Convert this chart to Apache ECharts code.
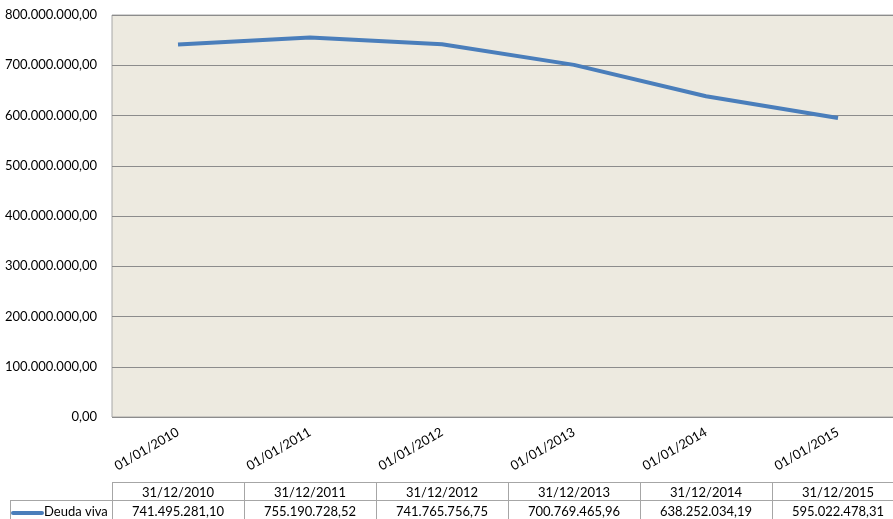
<!DOCTYPE html>
<html><head><meta charset="utf-8">
<script src="https://cdn.jsdelivr.net/npm/echarts@6/dist/echarts.min.js"></script>
<style>html,body{margin:0;padding:0;background:#fff}#c{width:893px;height:519px}</style>
</head><body><div id="c"></div>
<script>
var categories = ['01/01/2010','01/01/2011','01/01/2012','01/01/2013','01/01/2014','01/01/2015'];
var tableDates = ['31/12/2010','31/12/2011','31/12/2012','31/12/2013','31/12/2014','31/12/2015'];
var seriesName = 'Deuda viva';
var values = [741495281.10, 755190728.52, 741765756.75, 700769465.96, 638252034.19, 595022478.31];

function fmt(v){
  var p = v.toFixed(2).split('.');
  return p[0].replace(/\B(?=(\d{3})+(?!\d))/g,'.') + ',' + p[1];
}
var FONT = 'Lato, "Open Sans", sans-serif';
var chart = echarts.init(document.getElementById('c'));
var G = {left:112, top:15, width:792, height:402};
var option = {
  animation:false,
  grid:{left:G.left, top:G.top, width:G.width, height:G.height, outerBoundsMode:'none', containLabel:false,
    show:true, backgroundColor:'#EDEAE0', borderColor:'#a6a6a6', borderWidth:1},
  xAxis:{type:'category', data:categories, boundaryGap:true,
    axisLine:{show:false}, axisTick:{show:false},
    axisLabel:{rotate:30, margin:14, color:'#000', fontSize:13, fontFamily:FONT, interval:0}},
  yAxis:{type:'value', min:0, max:800000000, interval:100000000,
    axisLine:{show:false}, axisTick:{show:false},
    splitLine:{lineStyle:{color:'#8c8c8c', width:1}},
    axisLabel:{margin:15, color:'#000', fontSize:13, fontFamily:FONT, formatter:function(v){return fmt(v);}}},
  series:[{type:'line', name:seriesName, data:values, symbol:'none', lineStyle:{color:'#4A7EBB', width:4}, itemStyle:{color:'#4A7EBB'}}]
};
chart.setOption(option);

var colW = G.width / categories.length;
var g = [];
var lc = '#a6a6a6';
var r1 = 482.5, r2 = 500.5, r3 = 518;
var x0 = G.left, x1 = G.left + G.width;
g.push({type:'line', shape:{x1:x0, y1:r1, x2:x1, y2:r1}, style:{stroke:lc, lineWidth:1}});
g.push({type:'line', shape:{x1:10, y1:r2, x2:x1, y2:r2}, style:{stroke:lc, lineWidth:1}});
g.push({type:'line', shape:{x1:10.5, y1:r2, x2:10.5, y2:519}, style:{stroke:lc, lineWidth:1}});
for (var i = 0; i <= categories.length; i++) {
  var x = Math.round(x0 + i*colW) + 0.5;
  g.push({type:'line', shape:{x1:x, y1:r1, x2:x, y2:519}, style:{stroke:lc, lineWidth:1}});
}
for (var i = 0; i < categories.length; i++) {
  var cx = chart.convertToPixel({xAxisIndex:0}, i);
  g.push({type:'text', x:cx, y:(r1+r2)/2+1, style:{text:tableDates[i], font:'13px '+FONT, fill:'#000', align:'center', verticalAlign:'middle'}});
  g.push({type:'text', x:cx, y:(r2+r3)/2+3, style:{text:fmt(values[i]), font:'13px '+FONT, fill:'#000', align:'center', verticalAlign:'middle'}});
}
g.push({type:'line', shape:{x1:13, y1:513, x2:42, y2:513}, style:{stroke:'#4A7EBB', lineWidth:4, lineCap:'round'}});
g.push({type:'text', x:44, y:(r2+r3)/2+3, style:{text:seriesName, font:'13px '+FONT, fill:'#000', align:'left', verticalAlign:'middle'}});
chart.setOption({graphic:{elements:g}});
</script></body></html>
